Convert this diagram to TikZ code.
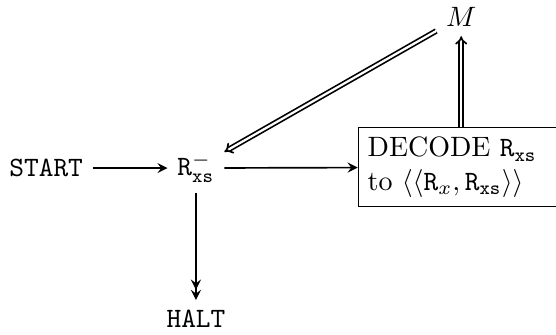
\documentclass[tikz,border=0pt]{standalone}
\usepackage{amsmath}
\usetikzlibrary{arrows.meta}

\begin{document}
\begin{tikzpicture}[x=1cm,y=1cm,>=stealth,
  link/.style={semithick},
  imp/.style={semithick,double,double distance=0.8pt,-{Implies}}]
 \useasboundingbox (0,0) rectangle (6.98,-4.20);
 \node (start) at (0.58,-2.11) {\texttt{START}};
 \node (reg) at (2.46,-2.11) {$\mathtt{R}_{\mathtt{xs}}^{-}$};
 \node[draw,align=left,text width=2.25cm] (dec) at (5.74,-2.10)
   {DECODE $\mathtt{R}_{\mathtt{xs}}$\\to $\langle\langle\mathtt{R}_x,\mathtt{R}_{\mathtt{xs}}\rangle\rangle$};
 \node (m) at (5.79,-0.21) {$M$};
 \node (halt) at (2.46,-4.00) {\texttt{HALT}};
 \draw[link,->] (start) -- (reg);
 \draw[link,->] (reg) -- (dec);
 \draw[link,->>] (reg) -- (halt);
 \draw[imp] (dec.north -| m) -- (m);
 \draw[imp] (m) -- (reg);
\end{tikzpicture}
\end{document}
